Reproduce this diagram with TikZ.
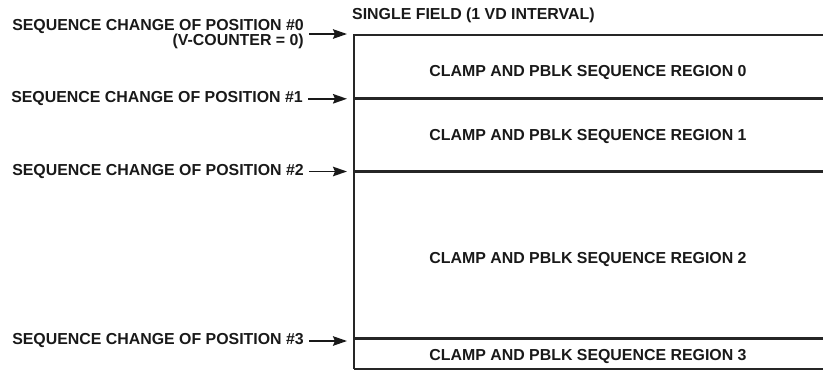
\documentclass[tikz,border=0pt]{standalone}
\usepackage{fontspec}
\setmainfont{Liberation Sans}
\usetikzlibrary{arrows.meta}

\tikzset{
    seqlabel/.style={anchor=east, inner sep=0pt, align=right, text=black!90,
        font=\fontsize{15.9}{13.5}\selectfont\bfseries},
    regionlabel/.style={anchor=base, inner sep=0pt, text=black!90,
        font=\fontsize{15.9}{13.5}\selectfont\bfseries},
    seqarrow/.style={->, line width=1.8pt, draw=black!90, shorten <=5pt},
    boxline/.style={line width=2.6pt, draw=black!85}
}

\begin{document}
\begin{tikzpicture}[x=1pt,y=-1pt,>={Stealth[length=14pt,width=9.5pt,inset=2pt]}]
            \useasboundingbox (0,0) rectangle (823,370);

            % the field box
            \draw[boxline] (823,35) -- (354,35) -- (354,369);
            \draw[boxline] (354,98.7) -- (823,98.7);
            \draw[boxline] (354,171.7) -- (823,171.7);
            \draw[boxline] (354,338.5) -- (823,338.5);
            \draw[line width=2pt, draw=black!85] (354,369) -- (823,369);

            % title
            \node[regionlabel, anchor=base west] (title) at (352,19) {SINGLE FIELD (1 VD INTERVAL)};

            % the regions
            \node[regionlabel] (reg0) at (588,76.5) {CLAMP AND PBLK SEQUENCE REGION 0};
            \node[regionlabel] (reg1) at (588,140.5) {CLAMP AND PBLK SEQUENCE REGION 1};
            \node[regionlabel] (reg2) at (588,263) {CLAMP AND PBLK SEQUENCE REGION 2};
            \node[regionlabel] (reg3) at (588,360.5) {CLAMP AND PBLK SEQUENCE REGION 3};

            % the change positions
            \node[seqlabel] (pos0) at (304,34) {SEQUENCE CHANGE OF POSITION \#0\\(V-COUNTER = 0)};
            \node[seqlabel] (pos1) at (303,98.8) {SEQUENCE CHANGE OF POSITION \#1};
            \node[seqlabel] (pos2) at (304,171.5) {SEQUENCE CHANGE OF POSITION \#2};
            \node[seqlabel] (pos3) at (304,341) {SEQUENCE CHANGE OF POSITION \#3};

            \coordinate (tip0) at (347,34);
            \coordinate (tip1) at (347,98.8);
            \coordinate (tip2) at (347,171.5);
            \coordinate (tip3) at (347,341);

            % arrows to the box
            \draw[seqarrow] (pos0) -- (tip0);
            \draw[seqarrow] (pos1) -- (tip1);
            \draw[seqarrow] (pos2) -- (tip2);
            \draw[seqarrow] (pos3) -- (tip3);
        \end{tikzpicture}
\end{document}
